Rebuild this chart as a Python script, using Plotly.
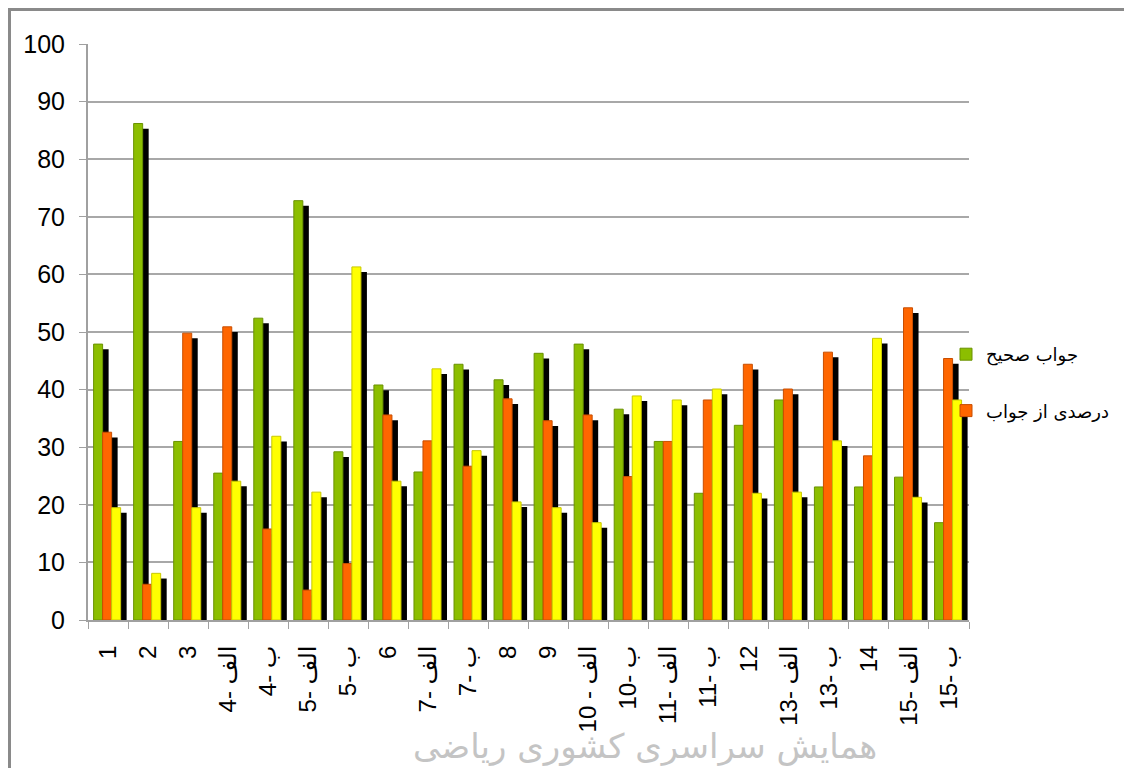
import plotly.graph_objects as go

categories = ["1", "2", "3", "4- الف", "4- ب", "5- الف", "5- ب", "6", "7- الف", "7- ب",
              "8", "9", "10 - الف", "10- ب", "11- الف", "11- ب", "12", "13- الف", "13- ب",
              "14", "15- الف", "15- ب"]

correct = [47.9, 86.2, 31.0, 25.5, 52.4, 72.8, 29.2, 40.8, 25.7, 44.4, 41.7,
           46.3, 47.9, 36.6, 31.0, 22.0, 33.8, 38.2, 23.1, 23.1, 24.8, 16.9]
partial = [32.6, 6.2, 49.8, 50.9, 15.8, 5.2, 9.8, 35.6, 31.1, 26.7, 38.4,
           34.6, 35.6, 24.9, 31.0, 38.2, 44.4, 40.1, 46.5, 28.5, 54.2, 45.4]
third = [19.5, 8.1, 19.5, 24.1, 31.9, 22.2, 61.3, 24.1, 43.6, 29.4, 20.5,
         19.5, 16.9, 38.9, 38.2, 40.1, 22.0, 22.2, 31.1, 48.9, 21.3, 38.2]

series_names = ["جواب صحیح", "درصدی از جواب", ""]
y_ticks = list(range(0, 101, 10))

# page body adds an 8px margin; work in screen pixels and convert
PAGE = 8
W, H = 1132, 768
PL, PR, PT, PB = 88, 969, 44, 620          # plot area on screen
ML, MT = PL - PAGE, PT - PAGE
MR, MB = W - (PR - PAGE), H - (PB - PAGE)
PW, PH = PR - PL, PB - PT

def px_x(p):
    return (p - PL) / PW

def px_y(p):
    return (PB - p) / PH

fig = go.Figure()

series = [
    (correct, series_names[0], "#8cbe00", "#6a9200", True),
    (partial, series_names[1], "#ff6600", "#c84e00", True),
    (third, series_names[2], "#ffff00", "#c8c800", False),
]
bar_w = 0.225
offsets = [-0.36, -0.135, 0.09]
shadow_dx = 0.15
shadow_drop = 0.9

for i, (vals, name, col, edge, show) in enumerate(series):
    fig.add_trace(go.Bar(
        x=categories, y=[v - shadow_drop for v in vals],
        width=bar_w, offset=offsets[i] + shadow_dx,
        marker=dict(color="#000000", line=dict(width=0)),
        showlegend=False, hoverinfo="skip"))
    fig.add_trace(go.Bar(
        x=categories, y=vals, name=name,
        width=bar_w, offset=offsets[i],
        marker=dict(color=col, line=dict(color=edge, width=1)),
        showlegend=show, legendgroup="g%d" % i))

fig.update_layout(
    width=W, height=H,
    margin=dict(l=ML, r=MR, t=MT, b=MB, autoexpand=False),
    barmode="overlay",
    plot_bgcolor="white", paper_bgcolor="white",
    font=dict(family="Liberation Sans, Arial, DejaVu Sans", size=24, color="black"),
    legend=dict(
        x=px_x(946), y=px_y(336), xanchor="left", yanchor="top",
        bgcolor="rgba(0,0,0,0)", tracegroupgap=30,
        font=dict(family="DejaVu Sans, Liberation Sans", size=18, color="black"),
        itemwidth=30,
    ),
    xaxis=dict(
        type="category", range=[-0.5, len(categories) - 0.5],
        tickangle=-90, tickson="boundaries", ticks="outside", ticklen=7,
        tickcolor="#a0a0a0", showline=True, linecolor="#a0a0a0", linewidth=2,
        showgrid=False, ticklabelstandoff=14,
        tickfont=dict(family="Liberation Sans, Arial, DejaVu Sans", size=24),
    ),
    yaxis=dict(
        range=[0, 100], tickvals=y_ticks, ticks="outside", ticklen=7,
        tickcolor="#a0a0a0", showline=True, linecolor="#a0a0a0", linewidth=2,
        showgrid=True, gridcolor="#a8a8a8", gridwidth=2, zeroline=False,
        ticklabelstandoff=9,
        tickfont=dict(family="Liberation Sans, Arial", size=25),
    ),
)

border = dict(color="#8a8a8a", width=3)
fig.add_shape(type="line", xref="paper", yref="paper",
              x0=px_x(9.5), x1=px_x(9.5), y0=px_y(H + 20), y1=px_y(8),
              line=border, layer="above")
fig.add_shape(type="line", xref="paper", yref="paper",
              x0=px_x(8), x1=px_x(W + 20), y0=px_y(9.5), y1=px_y(9.5),
              line=border, layer="above")

fig.add_annotation(text="همایش سراسری کشوری ریاضی", xref="paper", yref="paper",
                   x=px_x(645), y=px_y(724), xanchor="center", yanchor="top",
                   showarrow=False,
                   font=dict(family="DejaVu Sans", size=34, color="#c4c4c4"))

fig.write_html("out.html")
